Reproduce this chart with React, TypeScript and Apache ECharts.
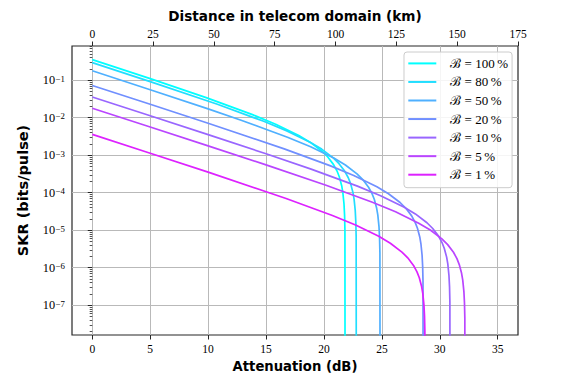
import { useEffect, useRef } from 'react';
import * as echarts from 'echarts';

// Legend labels (key budget B, in %)
const budgets = ['100', '80', '50', '20', '10', '5', '1'];
const colors = ['#00ffff', '#21deff', '#4fb0ff', '#708fff', '#9966ff', '#ba45ff', '#dd22ff'];

// Attenuation (dB) and SKR (bits/pulse), one pair per curve
const attB100 = [0, 5, 9.83, 13.83, 15.83, 17.83, 18.83, 19.83, 20.33, 20.83, 21.13, 21.33, 21.53, 21.63, 21.73, 21.78, 21.81, 21.83];
const skrB100 = [0.356, 0.1104, 0.03438, 0.0121, 0.006721, 0.003363, 0.002196, 0.001279, 8.98e-4, 5.61e-4, 3.78e-4, 2.63e-4, 1.54e-4, 1.01e-4, 5.0e-5, 2.49e-5, 9.9e-6, 1e-12];

const attB80 = [0, 5, 10.8, 14.8, 16.8, 18.8, 19.8, 20.8, 21.3, 21.8, 22.1, 22.3, 22.5, 22.6, 22.7, 22.75, 22.78, 22.8];
const skrB80 = [0.296, 0.0921, 0.02282, 0.008034, 0.004461, 0.002232, 0.001458, 8.49e-4, 5.96e-4, 3.73e-4, 2.51e-4, 1.75e-4, 1.02e-4, 6.73e-5, 3.32e-5, 1.65e-5, 6.58e-6, 1e-12];

const attB50 = [0, 5, 10, 12.85, 16.85, 18.85, 20.85, 21.85, 22.85, 23.35, 23.85, 24.15, 24.35, 24.55, 24.65, 24.75, 24.8, 24.83, 24.85];
const skrB50 = [0.179, 0.056, 0.01719, 0.008577, 0.003019, 0.001676, 8.39e-4, 5.48e-4, 3.19e-4, 2.24e-4, 1.4e-4, 9.43e-5, 6.57e-5, 3.84e-5, 2.53e-5, 1.25e-5, 6.2e-6, 2.47e-6, 1e-12];

const attB20 = [0, 5, 10, 16.57, 20.57, 22.57, 24.57, 25.57, 26.57, 27.07, 27.57, 27.87, 28.07, 28.27, 28.37, 28.47, 28.52, 28.55, 28.57];
const skrB20 = [0.0726, 0.02285, 0.007129, 0.001473, 5.19e-4, 2.88e-4, 1.44e-4, 9.41e-5, 5.48e-5, 3.85e-5, 2.41e-5, 1.62e-5, 1.13e-5, 6.6e-6, 4.34e-6, 2.15e-6, 1.07e-6, 4.25e-7, 1e-12];

const attB10 = [0, 5, 10, 15, 18.89, 22.89, 24.89, 26.89, 27.89, 28.89, 29.39, 29.89, 30.19, 30.39, 30.59, 30.69, 30.79, 30.84, 30.87, 30.89];
const skrB10 = [0.0358, 0.0113, 0.003544, 0.001094, 4.26e-4, 1.5e-4, 8.33e-5, 4.17e-5, 2.72e-5, 1.58e-5, 1.11e-5, 6.95e-6, 4.68e-6, 3.26e-6, 1.91e-6, 1.26e-6, 6.2e-7, 3.08e-7, 1.23e-7, 1e-12];

const attB5 = [0, 5, 10, 15, 20.18, 24.18, 26.18, 28.18, 29.18, 30.18, 30.68, 31.18, 31.48, 31.68, 31.88, 31.98, 32.08, 32.13, 32.16, 32.18];
const skrB5 = [0.01788, 0.005643, 0.001773, 5.51e-4, 1.58e-4, 5.56e-5, 3.09e-5, 1.54e-5, 1.01e-5, 5.87e-6, 4.12e-6, 2.58e-6, 1.74e-6, 1.21e-6, 7.07e-7, 4.65e-7, 2.3e-7, 1.14e-7, 4.55e-8, 1e-12];

const attB1 = [0, 5, 10, 16.73, 20.73, 22.73, 24.73, 25.73, 26.73, 27.23, 27.73, 28.03, 28.23, 28.43, 28.53, 28.63, 28.68, 28.71, 28.73];
const skrB1 = [0.003588, 0.00113, 3.53e-4, 7.02e-5, 2.47e-5, 1.37e-5, 6.87e-6, 4.48e-6, 2.61e-6, 1.83e-6, 1.15e-6, 7.72e-7, 5.37e-7, 3.14e-7, 2.07e-7, 1.02e-7, 5.08e-8, 2.02e-8, 1e-12];

const curveAtt = [attB100, attB80, attB50, attB20, attB10, attB5, attB1];
const curveSkr = [skrB100, skrB80, skrB50, skrB20, skrB10, skrB5, skrB1];

// Tick values
const dbTicks = [0, 5, 10, 15, 20, 25, 30, 35];
const kmTicks = [0, 25, 50, 75, 100, 125, 150, 175];
const skrMajorTicks = [1e-7, 1e-6, 1e-5, 1e-4, 1e-3, 1e-2, 1e-1];
const skrMinorTicks = [
  2e-8, 3e-8, 4e-8, 5e-8, 6e-8, 7e-8, 8e-8, 9e-8,
  2e-7, 3e-7, 4e-7, 5e-7, 6e-7, 7e-7, 8e-7, 9e-7,
  2e-6, 3e-6, 4e-6, 5e-6, 6e-6, 7e-6, 8e-6, 9e-6,
  2e-5, 3e-5, 4e-5, 5e-5, 6e-5, 7e-5, 8e-5, 9e-5,
  2e-4, 3e-4, 4e-4, 5e-4, 6e-4, 7e-4, 8e-4, 9e-4,
  2e-3, 3e-3, 4e-3, 5e-3, 6e-3, 7e-3, 8e-3, 9e-3,
  2e-2, 3e-2, 4e-2, 5e-2, 6e-2, 7e-2, 8e-2, 9e-2,
  2e-1, 3e-1, 4e-1, 5e-1, 6e-1, 7e-1, 8e-1,
];

const X_MIN = -1.75;
const X_MAX = 36.75;
const KM_MIN = -8.3333;
const KM_MAX = 175;
const Y_MIN = 1.6e-8;
const Y_MAX = 0.82;

const SERIF = '"Liberation Serif", "DejaVu Serif", serif';
const SANS = '"DejaVu Sans", "Open Sans", sans-serif';
const INK = '#000000';
const GRID_GRAY = '#b9b9b9';

function powLabel(v: number): string {
  const l = Math.log10(v);
  const e = Math.round(l);
  if (Math.abs(l - e) > 1e-6) return '';
  return `{b|10}{s|${e < 0 ? '\u2212' : ''}${Math.abs(e)}}`;
}

function intLabel(list: number[]) {
  return (v: number) => (list.some((t) => Math.abs(t - v) < 1e-6) ? String(Math.round(v)) : '');
}

export default function App() {
  const ref = useRef<HTMLDivElement>(null);

  useEffect(() => {
    document.body.style.margin = '0';
    if (!ref.current) return;
    const chart = echarts.init(ref.current, null, { renderer: 'svg' });

    const names = budgets.map((b) => `\u212C = ${b}\u2009%`);

    const series = names.map((name, i) => ({
      name,
      type: 'line',
      xAxisIndex: 0,
      yAxisIndex: 0,
      data: curveAtt[i].map((x, j) => [x, curveSkr[i][j]]),
      showSymbol: false,
      symbol: 'none',
      clip: true,
      color: colors[i],
      lineStyle: { color: colors[i], width: 1.7 },
      emphasis: { disabled: true },
      z: 3 + i,
    }));

    chart.setOption({
      animation: false,
      backgroundColor: '#ffffff',
      grid: {
        left: 72,
        right: 58,
        top: 46,
        bottom: 49,
        show: true,
        borderColor: '#262626',
        borderWidth: 1.2,
        backgroundColor: 'transparent',
        containLabel: false,
      },
      legend: {
        orient: 'vertical',
        left: 404,
        top: 52,
        padding: [4.4, 4, 6, 4.3],
        icon: 'rect',
        itemWidth: 28,
        itemHeight: 2,
        itemGap: 4.55,
        backgroundColor: 'rgba(255,255,255,0.85)',
        borderColor: '#cccccc',
        borderWidth: 1,
        borderRadius: 3,
        formatter: (name: string) => `{g|}{t|${name}}`,
        textStyle: {
          color: INK,
          rich: {
            g: { width: 9, height: 14, lineHeight: 14 },
            t: { fontFamily: SERIF, fontSize: 13, lineHeight: 14, color: INK },
          },
        },
        data: names,
        z: 10,
      },
      xAxis: [
        {
          type: 'value',
          position: 'bottom',
          min: X_MIN,
          max: X_MAX,
          splitNumber: 8,
          name: 'Attenuation (dB)',
          nameLocation: 'middle',
          nameGap: 25,
          nameTextStyle: { fontFamily: SANS, fontWeight: 'bold', fontSize: 13.2, color: INK },
          axisLine: { show: false },
          axisTick: { show: true, length: 4.5, lineStyle: { color: '#262626', width: 1 }, customValues: dbTicks },
          axisLabel: {
            customValues: dbTicks,
            formatter: intLabel(dbTicks),
            fontFamily: SERIF,
            fontSize: 11.5,
            color: INK,
            margin: 8,
          },
          splitLine: { show: true, lineStyle: { color: GRID_GRAY, width: 1 } },
        },
        {
          type: 'value',
          position: 'top',
          min: KM_MIN,
          max: KM_MAX,
          name: 'Distance in telecom domain (km)',
          nameLocation: 'middle',
          nameGap: 21,
          nameTextStyle: { fontFamily: SANS, fontWeight: 'bold', fontSize: 13.6, color: INK },
          axisLine: { show: false },
          axisTick: { show: true, length: 4.5, lineStyle: { color: '#262626', width: 1 }, customValues: kmTicks },
          axisLabel: {
            customValues: kmTicks,
            formatter: intLabel(kmTicks),
            fontFamily: SERIF,
            fontSize: 11.5,
            color: INK,
            margin: 6,
          },
          splitLine: { show: false },
        },
      ],
      yAxis: [
        {
          type: 'log',
          logBase: 10,
          position: 'left',
          min: Y_MIN,
          max: Y_MAX,
          name: 'SKR (bits/pulse)',
          nameLocation: 'middle',
          nameGap: 42,
          nameRotate: 90,
          nameTextStyle: { fontFamily: SANS, fontWeight: 'bold', fontSize: 14.5, color: INK },
          axisLine: { show: false },
          axisTick: { show: true, length: 4.5, lineStyle: { color: '#262626', width: 1 }, customValues: skrMajorTicks },
          axisLabel: {
            customValues: skrMajorTicks,
            formatter: powLabel,
            color: INK,
            margin: 7,
            rich: {
              b: { fontFamily: SERIF, fontSize: 12.3, lineHeight: 12, verticalAlign: 'bottom', color: INK },
              s: { fontFamily: SERIF, fontSize: 8.8, lineHeight: 9, padding: [0, 0, 6, 0.5], verticalAlign: 'top', color: INK },
            },
          },
          splitLine: { show: true, lineStyle: { color: GRID_GRAY, width: 1 } },
        },
        {
          type: 'log',
          logBase: 10,
          position: 'left',
          min: Y_MIN,
          max: Y_MAX,
          axisLine: { show: false },
          axisTick: { show: true, length: 2.6, lineStyle: { color: '#262626', width: 0.8 }, customValues: skrMinorTicks },
          axisLabel: { show: false },
          splitLine: { show: false },
        },
      ],
      series,
    });

    return () => chart.dispose();
  }, []);

  return <div ref={ref} style={{ width: 576, height: 384 }} />;
}
